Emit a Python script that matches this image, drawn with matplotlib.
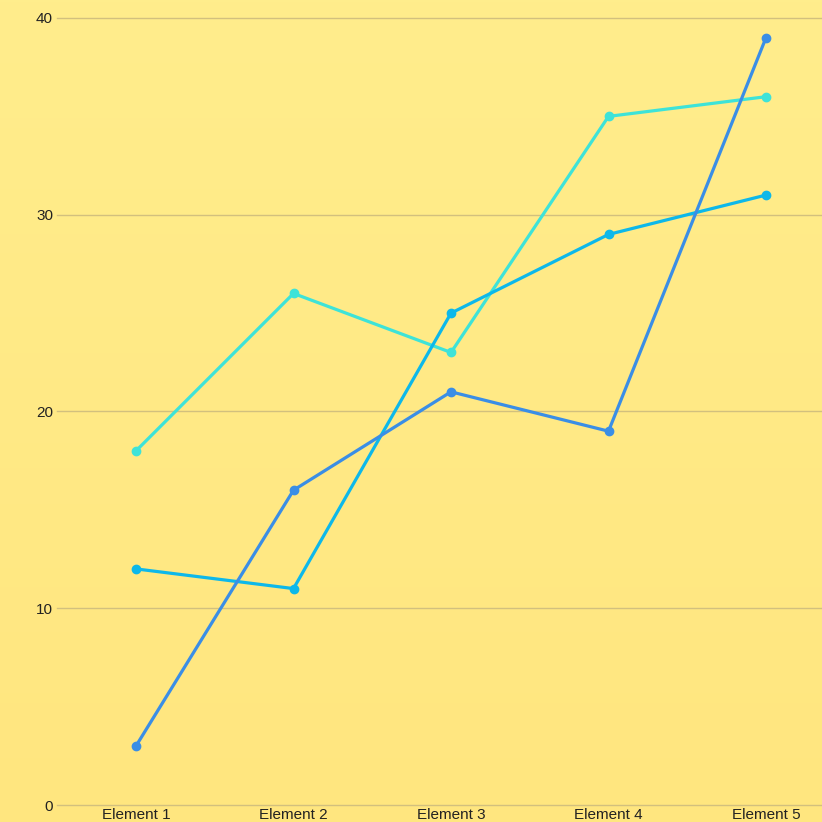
import numpy as np
import matplotlib.pyplot as plt
from matplotlib.colors import LinearSegmentedColormap

plt.rcParams['font.family'] = ['Liberation Sans', 'DejaVu Sans']

categories = ['Element 1', 'Element 2', 'Element 3', 'Element 4', 'Element 5']
series_a = [18, 26, 23, 35, 36]
series_b = [12, 11, 25, 29, 31]
series_c = [3, 16, 21, 19, 39]
y_ticks = [0, 10, 20, 30, 40]

colors = ['#3ee3d8', '#0db8ea', '#3a8ee6']

fig = plt.figure(figsize=(8.22, 8.22), dpi=100)

# 背景渐变
bg = fig.add_axes([0, 0, 1, 1], zorder=-10)
grad = np.linspace(0, 1, 256).reshape(-1, 1)
cmap = LinearSegmentedColormap.from_list('bg', ['#ffed8c', '#ffe67f'])
bg.imshow(grad, aspect='auto', cmap=cmap, extent=[0, 1, 0, 1])
bg.axis('off')

left = 57.25 / 822
bottom = 17 / 822
ax = fig.add_axes([left, bottom, 787.5 / 822, 787 / 822])
ax.patch.set_alpha(0)

# 网格线（手动画，避免边缘被裁掉）
for yt in y_ticks:
    ax.axhline(yt, color='#d2c07e', lw=1, clip_on=False, zorder=1)

x = np.arange(len(categories))
for ys, c in zip([series_a, series_b, series_c], colors):
    ax.plot(x, ys, '-o', color=c, lw=2.3, markersize=6, clip_on=False, zorder=3)

ax.set_xlim(-0.5, len(categories) - 0.5)
ax.set_ylim(0, 40)
ax.set_yticks(y_ticks)
ax.set_xticks(x)
ax.set_xticklabels(categories)
for s in ax.spines.values():
    s.set_visible(False)
ax.tick_params(length=0, labelsize=11, colors='#222222')
ax.tick_params(axis='x', pad=2)
ax.tick_params(axis='y', pad=3)

fig.savefig('out.png', dpi=100)
